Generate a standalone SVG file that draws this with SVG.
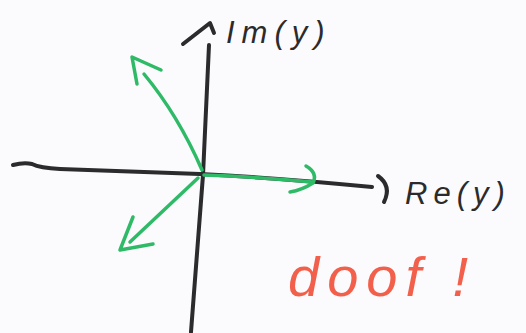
<svg xmlns="http://www.w3.org/2000/svg" width="526" height="333" viewBox="0 0 526 333">
<style>
.ax{fill:none;stroke:#2b2b2e;stroke-width:4;stroke-linecap:round;stroke-linejoin:round}
.gr{fill:none;stroke:#2fba68;stroke-width:3.5;stroke-linecap:round;stroke-linejoin:round}
.lbl{font-family:"Liberation Sans",sans-serif;font-style:italic;fill:#2b2b2e}
.red{font-family:"Liberation Sans",sans-serif;font-style:italic;fill:#f2604c}
</style>
<rect width="526" height="333" fill="#fbfbfd"/>
<g id="connectors">
<path class="ax" d="M13,165 Q24,162 32,164 Q40,168 60,169 L200,174 Q280,178 372,187"/>
<path class="ax" d="M378,176 Q392,186 384,202"/>
<path class="ax" d="M209,45 L203,175 L191,332"/>
<path class="ax" d="M183,44 L210,23 L214,33"/>
</g>
<g id="vectors">
<path class="gr" d="M202,170 Q178,115 144,74"/>
<path class="gr" d="M137,84 L132,57 L161,70"/>
<path class="gr" d="M204,175 Q260,177 313,182"/>
<path class="gr" d="M306,166 Q318,173 313,183 Q302,190 290,192"/>
<path class="gr" d="M198,178 L130,242"/>
<path class="gr" d="M133,217 L120,250 L153,244"/>
</g>
<g id="label-im"><text class="lbl" x="226" y="43" font-size="31" letter-spacing="7">Im(y)</text></g>
<g id="label-re"><text class="lbl" x="405" y="204" font-size="31" letter-spacing="6">Re(y)</text></g>
<g id="label-doof"><text class="red" x="288" y="296" font-size="56" letter-spacing="8">doof !</text></g>
</svg>
